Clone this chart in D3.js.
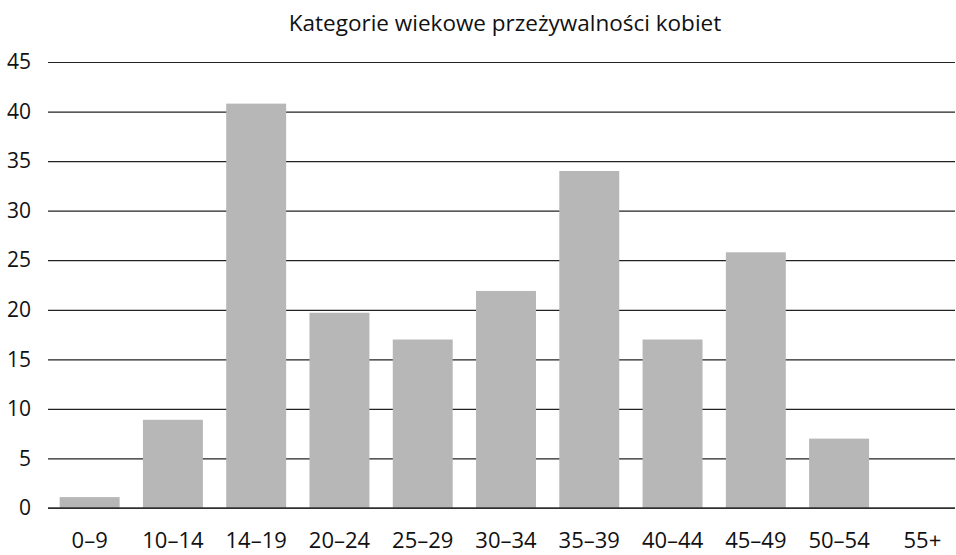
<!DOCTYPE html>
<html><head><meta charset="utf-8">
<script src="https://cdn.jsdelivr.net/npm/d3@7"></script>
<style>body{margin:0;background:#fff}svg{display:block}</style>
</head><body>
<script>
const categories = ["0–9","10–14","14–19","20–24","25–29","30–34","35–39","40–44","45–49","50–54","55+"];
const values = [1.1, 8.9, 40.8, 19.7, 17, 21.9, 34, 17, 25.8, 7, 0];
const yTicks = [0,5,10,15,20,25,30,35,40,45];
const title = "Kategorie wiekowe przeżywalności kobiet";

(function(){
const W = 956, H = 555;
const svg = d3.select("body").append("svg").attr("width", W).attr("height", H);
const font = "'Open Sans', 'Noto Sans', sans-serif";
const mLeft = 48, mRight = 955, mTop = 62, mBottom = 508;

const x = d3.scaleBand().domain(categories).range([mLeft, 964]).paddingInner(0.28).paddingOuter(0.14);
const y = d3.scaleLinear().domain([0, 45]).range([mBottom, mTop]);

svg.append("text").attr("x", 505).attr("y", 31).attr("text-anchor", "middle")
  .attr("font-family", font).attr("font-size", 22.5).attr("fill", "#111").text(title);

const yAxis = svg.append("g").attr("transform", `translate(${mLeft},0)`)
  .call(d3.axisLeft(y).tickValues(yTicks).tickSize(-(mRight-mLeft)).tickPadding(17).tickFormat(d3.format("d")));
yAxis.select(".domain").remove();
yAxis.selectAll(".tick line").attr("stroke", "#222").attr("stroke-width", 1.2);
yAxis.selectAll(".tick text").attr("font-family", font).attr("font-size", 21).attr("fill", "#111");

svg.append("g").selectAll("rect").data(values).join("rect")
  .attr("x", (d,i) => x(categories[i])).attr("width", x.bandwidth())
  .attr("y", d => y(d)).attr("height", d => y(0) - y(d)).attr("fill", "#b7b7b7");

svg.append("line").attr("x1", mLeft).attr("x2", mRight).attr("y1", y(0)).attr("y2", y(0))
  .attr("stroke", "#333").attr("stroke-width", 1.5);

const xAxis = svg.append("g").attr("transform", `translate(0,${mBottom})`)
  .call(d3.axisBottom(x).tickSize(0).tickPadding(24));
xAxis.select(".domain").remove();
xAxis.selectAll(".tick text").attr("font-family", font).attr("font-size", 22).attr("fill", "#111");
})();
</script>
</body></html>
